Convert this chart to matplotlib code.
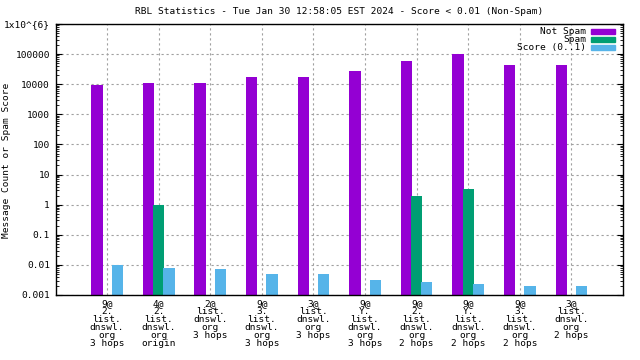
import numpy as np
import matplotlib
matplotlib.use("Agg")
import matplotlib.pyplot as plt
from matplotlib.ticker import FixedLocator, LogLocator, NullFormatter

categories = [
    "9@\n2.\nlist.\ndnswl.\norg\n3 hops",
    "4@\n2.\nlist.\ndnswl.\norg\norigin",
    "2@\nlist.\ndnswl.\norg\n3 hops",
    "9@\n3.\nlist.\ndnswl.\norg\n3 hops",
    "3@\nlist.\ndnswl.\norg\n3 hops",
    "9@\nY.\nlist.\ndnswl.\norg\n3 hops",
    "9@\n2.\nlist.\ndnswl.\norg\n2 hops",
    "9@\nY.\nlist.\ndnswl.\norg\n2 hops",
    "9@\n3.\nlist.\ndnswl.\norg\n2 hops",
    "3@\nlist.\ndnswl.\norg\n2 hops",
]
not_spam = [9500, 11000, 11000, 17500, 17500, 27500, 60000, 102000, 44000, 44000]
spam = [0, 1.0, 0, 0, 0, 0, 2.0, 3.2, 0, 0]
score = [0.0097, 0.0081, 0.0075, 0.0051, 0.0051, 0.0032, 0.0027, 0.0023, 0.0020, 0.0020]
series_names = ["Not Spam", "Spam", "Score (0..1)"]
ytick_vals = [1e-3, 1e-2, 1e-1, 1, 10, 100, 1000, 10000, 100000, 1e6]
ytick_labels = ["0.001", "0.01", "0.1", "1", "10", "100", "1000", "10000", "100000", "1x10^{6}"]
title = "RBL Statistics - Tue Jan 30 12:58:05 EST 2024 - Score < 0.01 (Non-Spam)"
ylabel = "Message Count or Spam Score"

colors = ["#9400D3", "#009E73", "#56B4E9"]
FONT = "DejaVu Sans Mono"
FS = 6.8

fig = plt.figure(figsize=(6.4, 3.6), dpi=100)
W, H = 640, 360
L, R, T, B = 55.5, 623, 24, 295
ax = fig.add_axes([L / W, 1 - B / H, (R - L) / W, (B - T) / H])

x = np.arange(len(categories))
bw = 0.22
off = 0.197
ns = np.array(not_spam, dtype=float)
sp = np.array(spam, dtype=float)
sc = np.array(score, dtype=float)
bottom = 1e-3
h1 = ax.bar(x - off, ns - bottom, bottom=bottom, width=bw, color=colors[0], zorder=3, label=series_names[0])
msk = sp > 0
h2 = ax.bar(x[msk], sp[msk] - bottom, bottom=bottom, width=bw, color=colors[1], zorder=4, label=series_names[1])
h3 = ax.bar(x + off, sc - bottom, bottom=bottom, width=bw, color=colors[2], zorder=5, label=series_names[2])

ax.set_yscale("log")
ax.set_ylim(1e-3, 1e6)
ax.set_xlim(-1, 10)

ax.yaxis.set_major_locator(FixedLocator(ytick_vals))
ax.set_yticks(ytick_vals)
ax.set_yticklabels(ytick_labels, fontfamily=FONT, fontsize=FS)
ax.yaxis.set_minor_locator(LogLocator(base=10, subs=np.arange(2, 10)))
ax.yaxis.set_minor_formatter(NullFormatter())
ax.tick_params(axis="y", which="major", direction="in", length=4, width=0.8, right=True, pad=4)
ax.tick_params(axis="y", which="minor", direction="in", length=2, width=0.6, right=True)

ax.set_xticks(x)
ax.set_xticklabels(categories, fontfamily=FONT, fontsize=FS, linespacing=0.85)
ax.tick_params(axis="x", which="both", length=0, pad=3)

ax.grid(True, which="major", axis="both", color="#a0a0a0", linestyle=(0, (2, 2.5)), linewidth=0.8, zorder=1)
for s in ax.spines.values():
    s.set_linewidth(1.0)
    s.set_zorder(6)

fig.text((L + R) / 2 / W, 1 - 12 / H, title, ha="center", va="center", fontfamily=FONT, fontsize=FS)
fig.text(7 / W, 1 - (L + 105) / H, ylabel, rotation=90, ha="center", va="center", fontfamily=FONT, fontsize=FS)

# legend (gnuplot style: text right-aligned, swatch on the right)
rows_y = [31.5, 39.3, 47.3]
for name, c, yy in zip(series_names, colors, rows_y):
    fig.text(586 / W, 1 - yy / H, name, ha="right", va="center", fontfamily=FONT, fontsize=FS)
    fig.patches.append(plt.Rectangle((591 / W, 1 - (yy + 2.5) / H), 24 / W, 5 / H,
                                     transform=fig.transFigure, color=c, zorder=10))

fig.savefig("out.png", dpi=100)
